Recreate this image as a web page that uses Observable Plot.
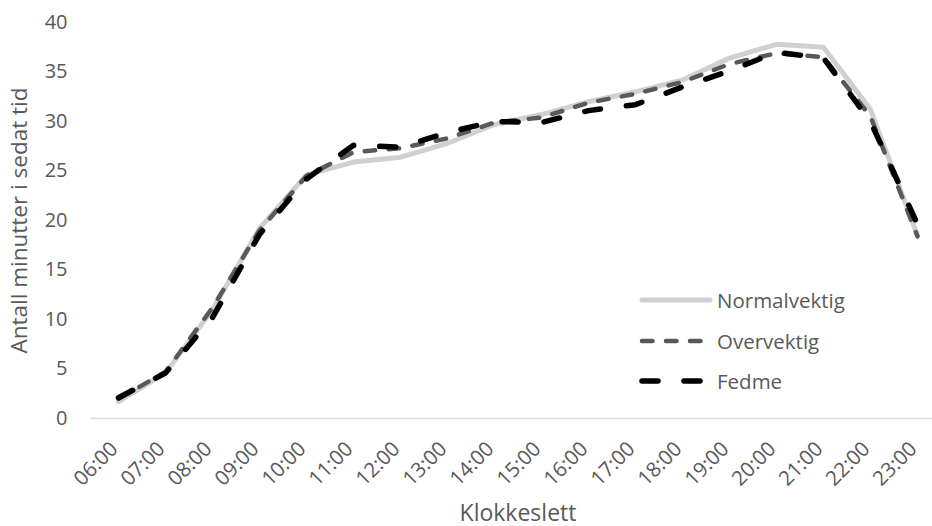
<!DOCTYPE html>
<html>
<head>
<meta charset="utf-8">
<script src="https://cdn.jsdelivr.net/npm/d3@7"></script>
<script src="https://cdn.jsdelivr.net/npm/@observablehq/plot@0.6"></script>
<style>
  html, body { margin: 0; padding: 0; background: #fff; overflow: hidden; }
  #wrap { position: relative; width: 932px; height: 526px; }
  #legend { position: absolute; left: 638px; top: 280px; font-family: "Open Sans", sans-serif; font-size: 20.5px; color: #595959; }
  .item { display: flex; align-items: center; height: 40.5px; }
  .item svg { display: block; margin-right: 3px; }
</style>
</head>
<body>
<div id="wrap">
  <div id="chart"></div>
  <div id="legend"></div>
</div>
<script>
const times = ["06:00","07:00","08:00","09:00","10:00","11:00","12:00","13:00","14:00","15:00","16:00","17:00","18:00","19:00","20:00","21:00","22:00","23:00"];
const normalvektig = [1.7, 4.6, 11.0, 19.2, 24.6, 25.9, 26.4, 27.8, 29.7, 30.7, 32.0, 33.0, 34.2, 36.4, 37.8, 37.5, 31.2, 18.5];
const overvektig   = [2.0, 4.7, 11.2, 19.0, 24.5, 26.9, 27.3, 28.3, 29.9, 30.4, 31.9, 32.8, 34.0, 35.8, 36.9, 36.5, 30.5, 18.4];
const fedme        = [2.1, 4.6, 10.2, 18.6, 24.2, 27.6, 27.4, 28.9, 30.0, 29.9, 31.1, 31.7, 33.5, 35.1, 37.0, 36.4, 30.0, 19.6];
const yTicks = [0, 5, 10, 15, 20, 25, 30, 35, 40];
const seriesNames = ["Normalvektig", "Overvektig", "Fedme"];

const styles = {
  "Normalvektig": {stroke: "#d0d0d0", strokeWidth: 5, strokeDasharray: null},
  "Overvektig":   {stroke: "#595959", strokeWidth: 4.5, strokeDasharray: "10.5,13.5"},
  "Fedme":        {stroke: "#000000", strokeWidth: 5.5, strokeDasharray: "16,26"}
};
const seriesValues = {"Normalvektig": normalvektig, "Overvektig": overvektig, "Fedme": fedme};

const rows = (name) => times.map((t, i) => ({time: t, value: seriesValues[name][i]}));

const lineMarks = seriesNames.map(name => {
  const s = styles[name];
  const opts = {x: "time", y: "value", stroke: s.stroke, strokeWidth: s.strokeWidth, strokeLinecap: "round", strokeLinejoin: "round"};
  if (s.strokeDasharray) opts.strokeDasharray = s.strokeDasharray;
  return Plot.line(rows(name), opts);
});

const chart = Plot.plot({
  width: 932,
  height: 526,
  marginLeft: 91,
  marginRight: -12,
  marginTop: 22,
  marginBottom: 108,
  style: {fontFamily: "Open Sans, sans-serif", color: "#595959", background: "#fff", overflow: "visible"},
  x: {type: "point", domain: times, padding: 0.5},
  y: {domain: [0, 40]},
  marks: [
    Plot.ruleY([0], {stroke: "#d9d9d9", strokeWidth: 1.5}),
    Plot.axisY({ticks: yTicks, tickSize: 0, tickPadding: 24, fontSize: 20, label: null}),
    Plot.axisY({ticks: [], label: "Antall minutter i sedat tid", labelAnchor: "center", labelArrow: "none", labelOffset: 80, fontSize: 22.5}),
    Plot.axisX({tickSize: 0, tickPadding: 27, dx: -4, tickRotate: -45, fontSize: 20.5, label: null}),
    Plot.axisX({ticks: [], label: "Klokkeslett", labelAnchor: "center", labelArrow: "none", labelOffset: 102, fontSize: 23}),
    ...lineMarks
  ]
});
document.getElementById("chart").appendChild(chart);

const legend = document.getElementById("legend");
seriesNames.forEach(name => {
  const s = styles[name];
  const item = document.createElement("div");
  item.className = "item";
  const svg = d3.create("svg").attr("width", 76).attr("height", 12);
  const ln = svg.append("line").attr("x1", 4).attr("x2", 72).attr("y1", 6).attr("y2", 6)
    .attr("stroke", s.stroke).attr("stroke-width", s.strokeWidth).attr("stroke-linecap", "round");
  if (s.strokeDasharray) ln.attr("stroke-dasharray", s.strokeDasharray);
  item.appendChild(svg.node());
  const span = document.createElement("span");
  span.textContent = name;
  item.appendChild(span);
  legend.appendChild(item);
});
</script>
</body>
</html>
